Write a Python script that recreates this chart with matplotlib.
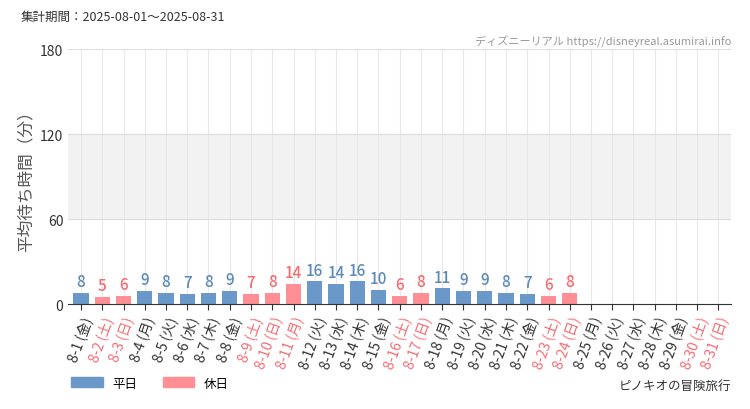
import matplotlib
matplotlib.use("Agg")
import matplotlib.pyplot as plt
from matplotlib.patches import Patch

plt.rcParams["font.family"] = ["Noto Sans CJK JP", "DejaVu Sans"]

BLUE = "#6a98c8"
RED = "#ff8f94"
BLUE_T = "#5a88bb"
RED_T = "#f56b72"

labels = ["8-1 (金)", "8-2 (土)", "8-3 (日)", "8-4 (月)", "8-5 (火)", "8-6 (水)", "8-7 (木)",
          "8-8 (金)", "8-9 (土)", "8-10 (日)", "8-11 (月)", "8-12 (火)", "8-13 (水)", "8-14 (木)",
          "8-15 (金)", "8-16 (土)", "8-17 (日)", "8-18 (月)", "8-19 (火)", "8-20 (水)", "8-21 (木)",
          "8-22 (金)", "8-23 (土)", "8-24 (日)", "8-25 (月)", "8-26 (火)", "8-27 (水)", "8-28 (木)",
          "8-29 (金)", "8-30 (土)", "8-31 (日)"]
values = [8, 5, 6, 9, 8, 7, 8, 9, 7, 8, 14, 16, 14, 16, 10, 6, 8, 11, 9, 9, 8, 7, 6, 8]
holidays = [2, 3, 9, 10, 11, 16, 17, 23, 24, 30, 31]

fig = plt.figure(figsize=(7.5, 4.1), dpi=100)
ax = fig.add_axes([0.091, 0.256, 0.884, 0.622])

ax.axhspan(60, 120, color="#f2f2f2", zorder=0)
for i in range(len(labels)):
    ax.axvline(i, color="#e8e8e8", lw=0.8, zorder=0)
for y in (60, 120, 180):
    ax.axhline(y, color="#dddddd", lw=0.8, zorder=0)

for i, v in enumerate(values):
    hol = (i + 1) in holidays
    ax.bar(i, v, width=0.72, color=RED if hol else BLUE, zorder=2)
    ax.text(i, v + 2, str(v), ha="center", va="bottom", fontsize=11,
            color=RED_T if hol else BLUE_T, fontweight="medium")

ax.set_xlim(-0.6, len(labels) - 0.4)
ax.set_ylim(0, 180)
ax.set_yticks([0, 60, 120, 180])
ax.tick_params(axis="y", length=0, labelsize=10, colors="#333333")
ax.set_xticks(range(len(labels)))
ax.set_xticklabels(labels, rotation=70, ha="right", rotation_mode="anchor", fontsize=10)
for i, t in enumerate(ax.get_xticklabels()):
    t.set_color(RED_T if (i + 1) in holidays else "#333333")
ax.tick_params(axis="x", length=4, color="#333333")
for s in ("top", "right", "left"):
    ax.spines[s].set_visible(False)
ax.spines["bottom"].set_color("#333333")
ax.set_ylabel("平均待ち時間（分）", fontsize=12, color="#555555")

fig.text(0.027, 0.95, "集計期間：2025-08-01〜2025-08-31", fontsize=9, color="#333333")
fig.text(0.975, 0.89, "ディズニーリアル https://disneyreal.asumirai.info", fontsize=8,
         color="#999999", ha="right")
fig.text(0.975, 0.05, "ピノキオの冒険旅行", fontsize=9, color="#333333", ha="right")
fig.legend(handles=[Patch(color=BLUE, label="平日"), Patch(color=RED, label="休日")],
           loc="lower left", bbox_to_anchor=(0.08, 0.02), ncol=2, frameon=False,
           fontsize=9, handlelength=2.5, handleheight=0.9)

fig.savefig("out.png")
